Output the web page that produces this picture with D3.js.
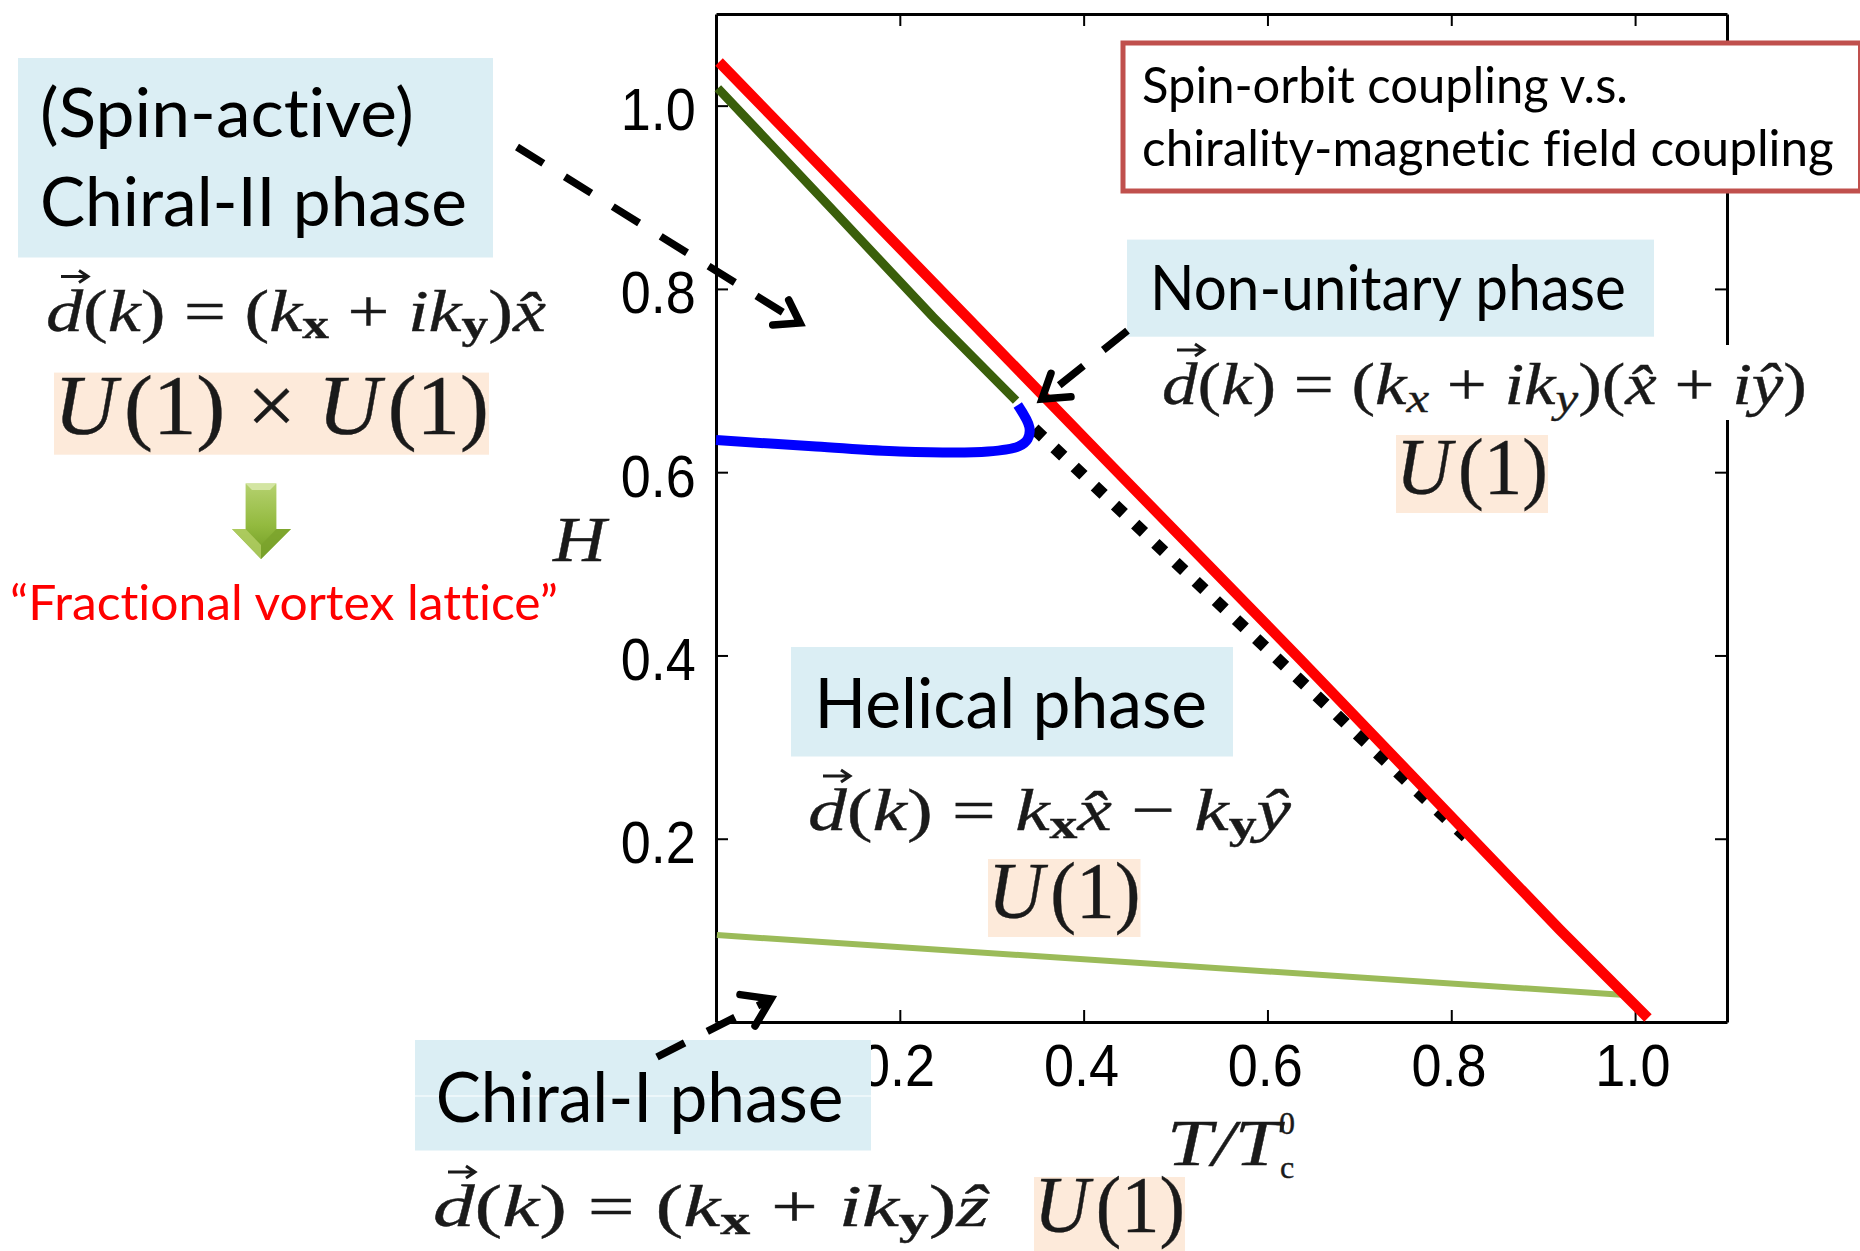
<!DOCTYPE html>
<meta charset="utf-8">
<style>
  body { margin: 0; background: #fff; }
  svg { display: block; }
  .sans { font-family: Lato, "Open Sans", sans-serif; fill: #000; font-variant-ligatures: none; }
  .math { font-family: "Liberation Serif", serif; fill: #1a1a1a; stroke: #1a1a1a; stroke-width: 0.4px; }
  .axis text { font-family: "Liberation Sans", sans-serif; font-size: 60px; fill: #000; }
</style>

<script src="https://d3js.org/d3.v7.min.js"></script>

<div id="my_dataviz"></div>

<script>

// phase boundaries
var redT = [0.0033, 0.421, 0.6355, 0.9184, 1.014];
var redH = [1.0476, 0.6165, 0.396, 0.1004, 0.0044];

var darkGreenT = [0.002, 0.127, 0.2358, 0.3265];
var darkGreenH = [1.019, 0.8861, 0.7697, 0.678];

var blueT = [0, 0.109, 0.2, 0.296, 0.329, 0.339, 0.341, 0.3283];
var blueH = [0.635, 0.628, 0.6225, 0.6225, 0.628, 0.636, 0.649, 0.6733];

var dottedT = [0.3464, 0.8158];
var dottedH = [0.6473, 0.2019];

var lightGreenT = [0.001, 0.9891];
var lightGreenH = [0.0949, 0.0295];

// tick labels
var xTicks = [0.2, 0.4, 0.6, 0.8, 1.0];
var yTicks = [0.2, 0.4, 0.6, 0.8, 1.0];

var width = 1860, height = 1251;

var svg = d3.select("#my_dataviz")
  .append("svg")
    .attr("width", width)
    .attr("height", height);

var defs = svg.append("defs");
var grad = defs.append("linearGradient")
  .attr("id", "arrowGreen")
  .attr("x1", 0).attr("y1", 0).attr("x2", 0).attr("y2", 1);
grad.append("stop").attr("offset", "0%").attr("stop-color", "#b5d16f");
grad.append("stop").attr("offset", "55%").attr("stop-color", "#93ba3f");
grad.append("stop").attr("offset", "100%").attr("stop-color", "#6f9a22");

// scales
var x = d3.scaleLinear().domain([0, 1.1]).range([716, 1727]);
var y = d3.scaleLinear().domain([0, 1.1]).range([1022, 14]);

// axes, ticks point inwards on all four sides
var xAxis = svg.append("g").attr("class", "axis")
  .attr("transform", "translate(0," + y(0) + ")")
  .call(d3.axisBottom(x).tickValues(xTicks).tickSizeInner(-12).tickSizeOuter(0).tickPadding(21).tickFormat(d3.format(".1f")));
var yAxis = svg.append("g").attr("class", "axis")
  .attr("transform", "translate(" + x(0) + ",0)")
  .call(d3.axisLeft(y).tickValues(yTicks).tickSizeInner(-12).tickSizeOuter(0).tickPadding(20).tickFormat(d3.format(".1f")));
svg.append("g").attr("class", "axis")
  .attr("transform", "translate(0," + y(1.1) + ")")
  .call(d3.axisTop(x).tickValues(xTicks).tickSizeInner(-12).tickSizeOuter(0).tickFormat(""));
svg.append("g").attr("class", "axis")
  .attr("transform", "translate(" + x(1.1) + ",0)")
  .call(d3.axisRight(y).tickValues(yTicks).tickSizeInner(-12).tickSizeOuter(0).tickFormat(""));

svg.selectAll(".axis .tick line").attr("stroke", "#000").attr("stroke-width", 2);
svg.selectAll(".axis .domain").attr("stroke", "#000").attr("stroke-width", 3);

// tick labels are narrower than the font, the original was stretched
xAxis.selectAll("text").attr("x", -3).attr("transform", "scale(0.9,1)");
yAxis.selectAll("text").attr("x", -22.5).attr("dy", "0.4em").attr("transform", "scale(0.9,1)");

// curves
var line = d3.line().x(function(d) { return x(d[0]); }).y(function(d) { return y(d[1]); });

function drawCurve(ts, hs, color, w, dash, curve) {
  svg.append("path")
    .datum(d3.zip(ts, hs))
    .attr("d", line.curve(curve || d3.curveLinear))
    .attr("fill", "none")
    .attr("stroke", color)
    .attr("stroke-width", w)
    .attr("stroke-dasharray", dash || null);
}

drawCurve(dottedT, dottedH, "#000", 12, "12 15.76");
drawCurve(lightGreenT, lightGreenH, "#9bbb59", 6);
drawCurve(darkGreenT, darkGreenH, "#3a5f0b", 9);
drawCurve(redT, redH, "#ff0000", 10.5);
drawCurve(blueT, blueH, "#0000ff", 10, null, d3.curveCatmullRom);

// stretch a text so that it runs from x0 to x1
function fit(t, x0, x1, base) {
  var len = t.node().getComputedTextLength();
  t.attr("transform", "translate(" + x0 + "," + base + ") scale(" + ((x1 - x0) / len) + ",1)");
}

function box(x0, y0, x1, y1, color) {
  svg.append("rect")
    .attr("x", x0).attr("y", y0)
    .attr("width", x1 - x0).attr("height", y1 - y0)
    .attr("fill", color);
}

function label(str, x0, x1, base, size, color) {
  var t = svg.append("text")
    .attr("class", "sans")
    .style("font-size", size + "px")
    .style("fill", color || "#000")
    .text(str);
  fit(t, x0, x1, base);
  return t;
}

// parts: [text, style] where style is i (italic), r (roman), b (bold subscript), s (italic subscript)
function math(parts, x0, x1, base, size) {
  var t = svg.append("text")
    .attr("class", "math")
    .style("font-size", size + "px");
  var shift = 0;
  parts.forEach(function(p) {
    var sub = p[1] == "b" || p[1] == "s";
    var ts = t.append("tspan")
      .text(p[0])
      .style("font-style", (p[1] == "i" || p[1] == "s") ? "italic" : "normal")
      .style("font-weight", p[1] == "b" ? "bold" : "normal")
      .style("font-size", sub ? (size * 0.72) + "px" : null);
    var dy = (sub ? size * 0.13 : 0) - shift;
    if (dy) ts.attr("dy", dy);
    shift = sub ? size * 0.13 : 0;
  });
  fit(t, x0, x1, base);
  return t;
}

function u1(x0, x1, base, size) {
  return math([["U", "i"], ["\u200A(1)", "r"]], x0, x1, base, size);
}

// little vector arrow over the d of d(k)
function vec(x0, base) {
  svg.append("path")
    .attr("d", "M" + (x0 + 15) + "," + (base - 54) + "h27m-9,-6l9,6l-9,6")
    .attr("fill", "none").attr("stroke", "#1a1a1a").attr("stroke-width", 3);
}

function dashedArrow(x0, y0, x1, y1, h0x, h0y, h1x, h1y) {
  svg.append("line")
    .attr("x1", x0).attr("y1", y0).attr("x2", x1).attr("y2", y1)
    .attr("stroke", "#000").attr("stroke-width", 7.5)
    .attr("stroke-dasharray", "31 25.4");
  svg.append("path")
    .attr("d", "M" + h0x + "," + h0y + "L" + x1 + "," + y1 + "L" + h1x + "," + h1y)
    .attr("fill", "none").attr("stroke", "#000").attr("stroke-width", 7.5)
    .attr("stroke-linejoin", "miter").attr("stroke-linecap", "round");
}

// Chiral-II block
box(18, 58, 493, 257.5, "#dbeef4");
label("(Spin-active)", 40, 414, 137, 68);
label("Chiral-II phase", 40, 467, 226, 68);
math([["d", "i"], ["(", "r"], ["k", "i"], [") = (", "r"], ["k", "i"], ["x", "b"], [" + ", "r"], ["ik", "i"], ["y", "b"], [")", "r"], ["x\u0302", "i"]], 46, 546, 330.5, 60);
vec(46, 330.5);
box(54, 372.6, 489, 454.7, "#fdeada");
math([["U", "i"], ["\u200A(1) \u00D7 ", "r"], ["U", "i"], ["\u200A(1)", "r"]], 54, 489, 433.5, 84);

// green block arrow
svg.append("path")
  .attr("d", "M245.6,483.6L276.4,483.6L276.4,529L291,529L261,559L232,529L245.6,529Z")
  .attr("fill", "url(#arrowGreen)");
svg.append("path")
  .attr("d", "M245.6,483.6L276.4,483.6L270,490L252,490Z")
  .attr("fill", "#d3e5a2");
svg.append("path")
  .attr("d", "M232,529L245.6,529L261,545L261,559Z")
  .attr("fill", "#b4d067").attr("fill-opacity", 0.8);
svg.append("path")
  .attr("d", "M291,529L276.4,529L261,545L261,559Z")
  .attr("fill", "#7ba32c").attr("fill-opacity", 0.8);
label("\u201CFractional vortex lattice\u201D", 10, 558, 620, 49, "#ff0000");

fit(svg.append("text").attr("class", "math")
  .style("font-size", "64px").style("font-style", "italic")
  .text("H"), 553, 606, 561);

// spin-orbit box, its right side runs off the page
svg.append("rect")
  .attr("x", 1123).attr("y", 43)
  .attr("width", 737.5).attr("height", 148)
  .attr("fill", "#fff").attr("stroke", "#c0504d").attr("stroke-width", 5);
label("Spin-orbit coupling v.s.", 1142, 1628, 102.5, 50);
label("chirality-magnetic field coupling", 1142, 1834, 166, 50);

// non-unitary block
box(1145, 345, 1810, 420, "#fff");
box(1127, 239.6, 1654, 336.7, "#dbeef4");
label("Non-unitary phase", 1150, 1626, 310, 62);
math([["d", "i"], ["(", "r"], ["k", "i"], [") = (", "r"], ["k", "i"], ["x", "s"], [" + ", "r"], ["ik", "i"], ["y", "s"], [")(", "r"], ["x\u0302", "i"], [" + ", "r"], ["i", "i"], ["y\u0302", "i"], [")", "r"]], 1162, 1807, 404, 60);
vec(1162, 404);
box(1396, 435, 1548, 513, "#fdeada");
u1(1396, 1548, 494, 80);

// helical block
box(791, 647, 1233, 756.5, "#dbeef4");
label("Helical phase", 814.6, 1207, 727.5, 70);
math([["d", "i"], ["(", "r"], ["k", "i"], [") = ", "r"], ["k", "i"], ["x", "b"], ["x\u0302", "i"], [" \u2212 ", "r"], ["k", "i"], ["y", "b"], ["y\u0302", "i"]], 808, 1291, 830, 60);
vec(808, 830);
box(988, 859, 1140.5, 937, "#fdeada");
u1(988, 1140.5, 918, 80);

// chiral-I block
box(415, 1040, 871, 1150.5, "#dbeef4");
box(415, 1095.5, 871, 1096.5, "#fff");
label("Chiral-I phase", 435.7, 843.6, 1122, 70);
math([["d", "i"], ["(", "r"], ["k", "i"], [") = (", "r"], ["k", "i"], ["x", "b"], [" + ", "r"], ["ik", "i"], ["y", "b"], [")", "r"], ["z\u0302", "i"]], 433, 989, 1226, 60);
vec(433, 1226);
box(1034, 1177, 1185, 1251, "#fdeada");
u1(1034, 1185, 1232, 80);

// T/Tc label
fit(svg.append("text").attr("class", "math")
  .style("font-size", "66px").style("font-style", "italic")
  .text("T/T"), 1167, 1280, 1165);
svg.append("text").attr("class", "math")
  .attr("x", 1279).attr("y", 1134).style("font-size", "32px").text("0");
svg.append("text").attr("class", "math")
  .attr("x", 1280).attr("y", 1178).style("font-size", "32px").text("c");

// dashed arrows over everything
dashedArrow(517, 147, 800, 323, 788.7, 300, 772.7, 325);
dashedArrow(1127.5, 330.6, 1042, 399, 1051, 373.3, 1071, 396.7);
dashedArrow(657, 1057, 771, 999, 740, 994.6, 755, 1026);

</script>
